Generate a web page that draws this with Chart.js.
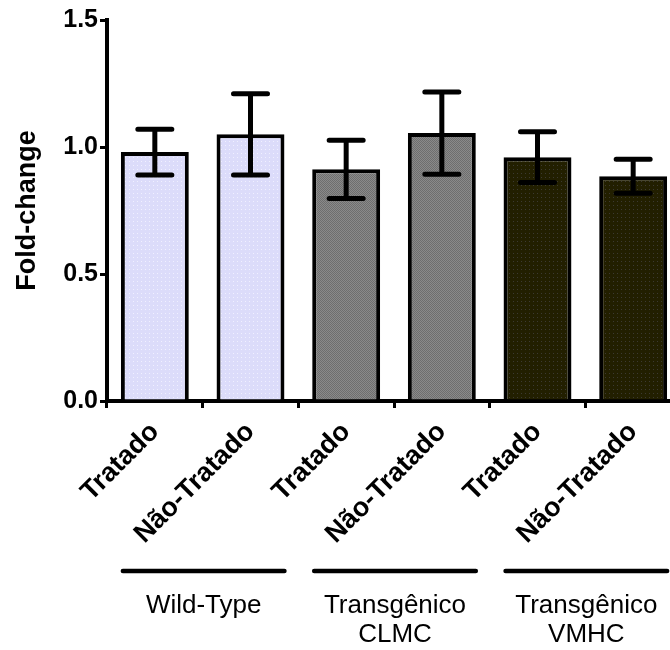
<!DOCTYPE html>
<html>
<head>
<meta charset="utf-8">
<script src="https://cdn.jsdelivr.net/npm/chart.js@4/dist/chart.umd.min.js"></script>
<style>
  html, body { margin: 0; padding: 0; background: #fff; overflow: hidden; }
  #wrap { width: 690px; height: 650px; }
</style>
</head>
<body>
<div id="wrap"><canvas id="foldChart" width="690" height="650"></canvas></div>
<script>
// dados
const conditions = ['Tratado', 'Não-Tratado', 'Tratado', 'Não-Tratado', 'Tratado', 'Não-Tratado'];
const foldChange = [0.98, 1.05, 0.912, 1.055, 0.96, 0.885];
const errorSEM = [0.09, 0.16, 0.115, 0.162, 0.10, 0.067];
const groups = [['Wild-Type'], ['Transgênico', 'CLMC'], ['Transgênico', 'VMHC']];
const yTicks = [0, 0.5, 1.0, 1.5];

const FONT = "'Liberation Sans', Arial, sans-serif";

// pequenos padrões de preenchimento
function makePattern(bg, dot, kind) {
    const c = document.createElement('canvas');
    c.width = 4; c.height = 4;
    const g = c.getContext('2d');
    g.fillStyle = bg;
    g.fillRect(0, 0, 4, 4);
    g.fillStyle = dot;
    if (kind === 'checker') {
        g.fillRect(0, 0, 1, 1); g.fillRect(2, 0, 1, 1);
        g.fillRect(1, 1, 1, 1); g.fillRect(3, 1, 1, 1);
        g.fillRect(0, 2, 1, 1); g.fillRect(2, 2, 1, 1);
        g.fillRect(1, 3, 1, 1); g.fillRect(3, 3, 1, 1);
    } else {
        g.fillRect(1, 1, 1, 1);
    }
    return g.createPattern(c, 'repeat');
}

const lavender = makePattern('#dcdcfa', '#f0f0ff', 'dot');
const gray = makePattern('#8a8a8a', '#6e6e6e', 'checker');
const olive = makePattern('#221f00', '#3c3a32', 'dot');
const fills = [lavender, lavender, gray, gray, olive, olive];

const errorBars = {
    id: 'errorBars',
    afterDatasetsDraw(chart) {
        const ctx = chart.ctx;
        const y = chart.scales.y;
        const meta = chart.getDatasetMeta(0);
        ctx.save();
        ctx.strokeStyle = '#000';
        meta.data.forEach((bar, i) => {
            const hi = y.getPixelForValue(foldChange[i] + errorSEM[i]);
            const lo = y.getPixelForValue(foldChange[i] - errorSEM[i]);
            ctx.lineWidth = 5;
            ctx.lineCap = 'butt';
            ctx.beginPath();
            ctx.moveTo(bar.x, hi);
            ctx.lineTo(bar.x, lo);
            ctx.stroke();
            ctx.lineCap = 'round';
            ctx.beginPath();
            ctx.moveTo(bar.x - 17, hi); ctx.lineTo(bar.x + 17, hi);
            ctx.moveTo(bar.x - 17, lo); ctx.lineTo(bar.x + 17, lo);
            ctx.stroke();
        });
        ctx.restore();
    }
};

const groupLabels = {
    id: 'groupLabels',
    afterDraw(chart) {
        const ctx = chart.ctx;
        const meta = chart.getDatasetMeta(0);
        ctx.save();
        ctx.strokeStyle = '#000';
        ctx.fillStyle = '#000';
        ctx.lineWidth = 4.5;
        ctx.lineCap = 'round';
        ctx.font = '26px ' + FONT;
        ctx.textAlign = 'center';
        ctx.textBaseline = 'alphabetic';
        groups.forEach((lines, g) => {
            const a = meta.data[g * 2];
            const b = meta.data[g * 2 + 1];
            const x0 = a.x - a.width / 2 + 2;
            const x1 = b.x + b.width / 2;
            ctx.beginPath();
            ctx.moveTo(x0, 571);
            ctx.lineTo(x1, 571);
            ctx.stroke();
            lines.forEach((t, k) => {
                ctx.fillText(t, (x0 + x1) / 2, 613 + k * 29);
            });
        });
        ctx.restore();
    }
};

const foldChart = new Chart(document.getElementById('foldChart').getContext('2d'), {
    type: 'bar',
    data: {
        labels: conditions,
        datasets: [{
            data: foldChange,
            backgroundColor: fills,
            borderColor: '#000',
            borderWidth: 4,
            borderSkipped: 'bottom',
            barPercentage: 0.71,
            categoryPercentage: 1.0
        }]
    },
    options: {
        responsive: false,
        animation: false,
        layout: { padding: { top: 20, right: 9, left: 0, bottom: 0 } },
        plugins: {
            legend: { display: false },
            tooltip: { enabled: false }
        },
        scales: {
            x: {
                grid: {
                    drawOnChartArea: false,
                    drawTicks: true,
                    tickLength: 7,
                    color: '#000',
                    lineWidth: 3
                },
                border: { display: true, color: '#000', width: 4 },
                ticks: {
                    color: '#000',
                    font: { family: FONT, size: 27, weight: 'bold' },
                    minRotation: 45,
                    maxRotation: 45,
                    padding: 8
                },
                afterFit(scale) { scale.height = 249; }
            },
            y: {
                min: 0,
                max: 1.5,
                afterBuildTicks(scale) { scale.ticks = yTicks.map(v => ({ value: v })); },
                grid: {
                    drawOnChartArea: false,
                    drawTicks: true,
                    tickLength: 7,
                    color: '#000',
                    lineWidth: 3
                },
                border: { display: true, color: '#000', width: 4 },
                ticks: {
                    color: '#000',
                    font: { family: FONT, size: 25, weight: 'bold' },
                    padding: 2,
                    callback: v => v.toFixed(1)
                },
                title: {
                    display: true,
                    text: 'Fold-change',
                    color: '#000',
                    font: { family: FONT, size: 27, weight: 'bold' },
                    padding: { top: 11, bottom: 0 }
                },
                afterFit(scale) { scale.width = 107; }
            }
        }
    },
    plugins: [errorBars, groupLabels]
});
</script>
</body>
</html>
